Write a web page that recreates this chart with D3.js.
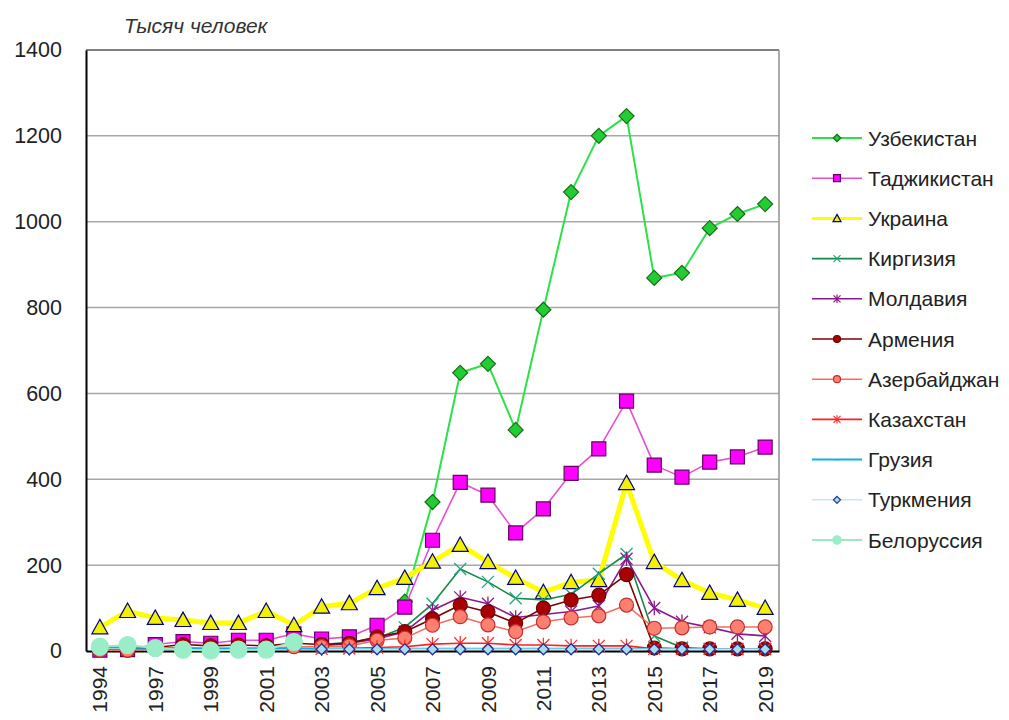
<!DOCTYPE html>
<html>
<head>
<meta charset="utf-8">
<script src="https://cdn.jsdelivr.net/npm/d3@7"></script>
<style>
  body { margin: 0; background: #fff; }
  svg { display: block; font-family: "Liberation Sans", Arial, sans-serif; }
</style>
</head>
<body>
<svg id="chart" width="1009" height="720"></svg>
<script>
// ---------- DATA ----------
const years = ["1994","1996","1997","1998","1999","2000","2001","2002","2003","2004","2005","2006","2007","2008","2009","2010","2011","2012","2013","2014","2015","2016","2017","2018","2019"];
const tickYears = ["1994","1997","1999","2001","2003","2005","2007","2009","2011","2013","2015","2017","2019"];
const yTicks = [0, 200, 400, 600, 800, 1000, 1200, 1400];
const yTitle = "Тысяч человек";

const seriesNames = ["Узбекистан","Таджикистан","Украина","Киргизия","Молдавия","Армения","Азербайджан","Казахстан","Грузия","Туркмения","Белоруссия"];

const uzbekistan = [null,null,null,null,null,null,null,null,null,null,null,115,347,648,669,515,795,1069,1200,1246,869,881,985,1018,1041];
const tajikistan = [2,3,15,22,18,25,25,40,28,33,60,102,258,393,363,275,331,414,471,582,433,405,440,452,475];
const ukraine    = [55,93,77,72,65,65,93,60,103,111,146,170,208,247,207,170,137,160,165,391,207,165,135,119,100];
const kyrgyzstan = [null,null,null,null,null,null,null,null,15,20,30,55,110,191,161,123,119,132,180,226,35,8,5,4,4];
const moldova    = [null,null,null,null,null,null,null,null,12,18,28,45,95,125,110,78,85,92,105,215,100,68,55,40,35];
const armenia    = [3,2,8,15,12,14,12,18,15,18,33,45,75,107,91,65,100,119,130,178,7,5,5,5,5];
const azerbaijan = [2,2,4,6,5,6,6,10,10,12,25,30,60,80,61,45,68,77,82,107,53,54,56,56,56];
const kazakhstan = [null,null,null,null,null,null,null,null,5,6,8,10,16,18,18,14,14,12,12,12,5,5,5,5,5];
const georgia    = [8,8,7,7,6,6,6,6,5,5,5,5,5,5,5,5,5,5,5,5,4,4,4,4,4];
const turkmenia  = [null,null,null,null,null,null,null,null,4,4,4,4,4,4,4,4,4,4,4,4,4,4,4,4,4];
const belarus    = [10,14,7,3,1,3,3,21,null,null,null,null,null,null,null,null,null,null,null,null,null,null,null,null,null];

const seriesValues = [uzbekistan, tajikistan, ukraine, kyrgyzstan, moldova, armenia, azerbaijan, kazakhstan, georgia, turkmenia, belarus];

// ---------- STYLES ----------
const styles = [
  {line:"#2ee04a", lw:2,   marker:"diamond",  ms:7.5, fill:"#22cc33", stroke:"#1a6a1a"},
  {line:"#e64fd0", lw:1.6, marker:"square",   ms:7,   fill:"#ff00ff", stroke:"#660066"},
  {line:"#ffff00", lw:5,   marker:"triangle", ms:8,   fill:"#f2f200", stroke:"#000080"},
  {line:"#17884a", lw:1.6, marker:"x",        ms:6,   fill:"none",    stroke:"#22a87a"},
  {line:"#8a1a8a", lw:1.6, marker:"star",     ms:6,   fill:"none",    stroke:"#8a1a8a"},
  {line:"#800000", lw:1.6, marker:"circle",   ms:7,   fill:"#a80000", stroke:"#700000"},
  {line:"#f07060", lw:1.6, marker:"circle",   ms:7,   fill:"#ff8070", stroke:"#c03030"},
  {line:"#ff2020", lw:1.6, marker:"star",     ms:6,   fill:"none",    stroke:"#ff3030"},
  {line:"#10b0e0", lw:2,   marker:"dash",     ms:4,   fill:"none",    stroke:"#10b0e0"},
  {line:"#c8e4f8", lw:1.5, marker:"diamond",  ms:5.5, fill:"#a8dcf4", stroke:"#203090"},
  {line:"#9fe8c0", lw:2,   marker:"circle",   ms:8.5, fill:"#99eec8", stroke:"#99eec8"}
];

function markerPath(type, s) {
  switch (type) {
    case "diamond":  return `M0,${-s}L${s},0L0,${s}L${-s},0Z`;
    case "square":   return `M${-s},${-s}H${s}V${s}H${-s}Z`;
    case "triangle": return `M0,${-s}L${s},${s*0.8}L${-s},${s*0.8}Z`;
    case "x":        return `M${-s},${-s}L${s},${s}M${-s},${s}L${s},${-s}`;
    case "star":     return `M${-s},${-s}L${s},${s}M${-s},${s}L${s},${-s}M0,${-s*1.2}L0,${s*1.2}`;
    case "dash":     return `M${-s},0H${s}`;
    case "circle":   return d3.symbol(d3.symbolCircle, Math.PI*s*s)();
  }
}

// ---------- LAYOUT ----------
const svg = d3.select("#chart");
const plot = {left: 86, right: 779, top: 50, bottom: 651};

const x = d3.scaleBand().domain(years).range([plot.left, plot.right]).paddingInner(0).paddingOuter(0);
const y = d3.scaleLinear().domain([0, 1400]).range([plot.bottom, plot.top]);
const cx = d => x(d) + x.bandwidth()/2;

// gridlines
svg.append("g").selectAll("line").data(yTicks.filter(t => t > 0)).join("line")
  .attr("x1", plot.left).attr("x2", plot.right)
  .attr("y1", d => y(d)).attr("y2", d => y(d))
  .attr("stroke", d => d === 1400 ? "#808080" : "#a8a8a8").attr("stroke-width", d => d === 1400 ? 2 : 1.5);

// right border
svg.append("line").attr("x1", plot.right).attr("x2", plot.right).attr("y1", plot.top).attr("y2", plot.bottom)
  .attr("stroke", "#909090").attr("stroke-width", 1.5);

// y axis
const yAxis = d3.axisLeft(y).tickValues(yTicks).tickFormat(d3.format("d")).tickSize(0).tickPadding(24);
const gy = svg.append("g").attr("transform", `translate(${plot.left},0)`).call(yAxis);
gy.select(".domain").attr("stroke", "#000").attr("stroke-width", 2);
gy.selectAll("text").attr("font-size", 21.5).attr("fill", "#222").attr("font-family", "Liberation Sans, Arial, sans-serif");

// x axis
const xAxis = d3.axisBottom(x).tickValues(tickYears).tickSize(0).tickPadding(0);
const gx = svg.append("g").attr("transform", `translate(0,${plot.bottom})`).call(xAxis);
gx.select(".domain").attr("stroke", "#000").attr("stroke-width", 2);
gx.selectAll(".tick text")
  .attr("font-size", 21).attr("fill", "#222").attr("font-family", "Liberation Sans, Arial, sans-serif")
  .attr("text-anchor", "end")
  .attr("transform", "translate(0,15) rotate(-90)")
  .attr("x", 0).attr("y", 0).attr("dy", "0.36em");

// y title
svg.append("text").attr("x", 124).attr("y", 33).attr("font-size", 21).attr("font-style", "italic")
  .attr("fill", "#333").text(yTitle);

// series
const lineGen = d3.line().defined(d => d.v !== null).x(d => cx(d.year)).y(d => y(d.v));
seriesValues.forEach((vals, i) => {
  const st = styles[i];
  const pts = years.map((yr, j) => ({year: yr, v: vals[j]}));
  const g = svg.append("g");
  g.append("path").datum(pts).attr("d", lineGen).attr("fill", "none")
    .attr("stroke", st.line).attr("stroke-width", st.lw).attr("stroke-linejoin", "round");
  g.selectAll("path.m").data(pts.filter(p => p.v !== null)).join("path").attr("class", "m")
    .attr("d", markerPath(st.marker, st.ms))
    .attr("transform", p => `translate(${cx(p.year)},${y(p.v)})`)
    .attr("fill", st.fill).attr("stroke", st.stroke).attr("stroke-width", st.fill === "none" ? 1.3 : 1.2);
});

// legend
const legend = svg.append("g");
seriesNames.forEach((name, i) => {
  const st = styles[i];
  const ly = 138 + i * 40.2;
  const g = legend.append("g").attr("transform", `translate(0,${ly})`);
  g.append("line").attr("x1", 812).attr("x2", 862).attr("y1", 0).attr("y2", 0)
    .attr("stroke", st.line).attr("stroke-width", Math.min(st.lw, 3));
  g.append("path").attr("d", markerPath(st.marker, Math.max(3.5, st.ms * 0.5)))
    .attr("transform", "translate(837,0)")
    .attr("fill", st.fill).attr("stroke", st.stroke).attr("stroke-width", 1.2);
  g.append("text").attr("x", 868).attr("y", 0).attr("dy", "0.36em")
    .attr("font-size", 21).attr("fill", "#222").text(name);
});
</script>
</body>
</html>
